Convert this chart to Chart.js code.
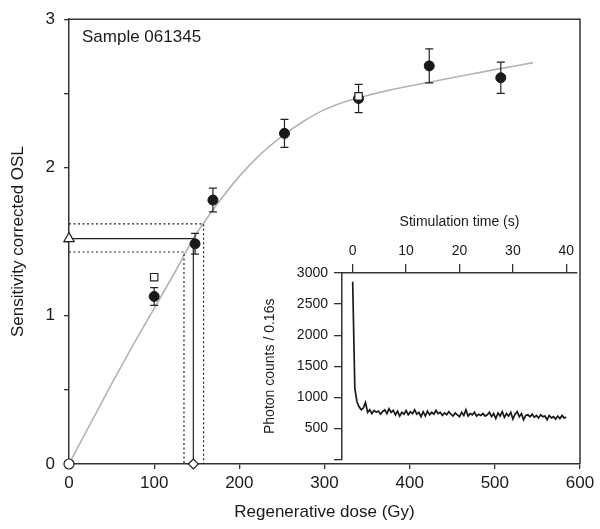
<!DOCTYPE html>
<html lang="en">
<head>
<meta charset="UTF-8">
<title>Sample 061345 dose response</title>
<script src="https://cdn.jsdelivr.net/npm/chart.js"></script>
<style>
  body { margin: 0; background: #fff; }
  #wrap { position: relative; width: 600px; height: 529px; }
  #mainChart { position: absolute; left: 0; top: 0; }
  #insetChart { position: absolute; left: 250px; top: 205px; }
</style>
</head>
<body>
<div id="wrap">
  <canvas id="mainChart" width="600" height="529"></canvas>
  <canvas id="insetChart" width="330" height="269"></canvas>
</div>
<script>
// regenerated points (Gy, Lx/Tx) with error
const doseGy = [100, 148, 169, 253, 340, 423, 507];
const oslRatio = [1.13, 1.485, 1.78, 2.23, 2.465, 2.685, 2.605];
const oslError = [0.06, 0.07, 0.08, 0.095, 0.095, 0.115, 0.105];

// recycling points (open squares)
const recycleDose = [100, 340];
const recycleOsl = [1.26, 2.48];

// fitted growth curve
const fitDose = [0, 25, 50, 75, 100, 125, 146, 175, 200, 225, 250, 275, 300, 325, 350, 375, 400, 450, 500, 545];
const fitOsl = [0, 0.27, 0.54, 0.80, 1.05, 1.30, 1.52, 1.76, 1.94, 2.09, 2.21, 2.31, 2.39, 2.445, 2.485, 2.52, 2.55, 2.605, 2.66, 2.707];

// natural signal and equivalent dose with its error band
const naturalOsl = 1.52;
const naturalLow = 1.43;
const naturalHigh = 1.62;
const equivDose = 146;
const equivLow = 135;
const equivHigh = 158;

// inset: OSL decay curve, counts per 0.16 s, read every 0.4 s
const stimStep = 0.4;
const photonCounts = [
  2860, 1150, 930, 850, 800, 830, 920, 760, 800, 740,
  790, 760, 780, 730, 770, 800, 740, 820, 760, 790,
  720, 780, 700, 760, 730, 790, 720, 770, 740, 800,
  730, 760, 690, 770, 700, 780, 720, 760, 730, 790,
  740, 760, 710, 750, 720, 770, 730, 700, 750, 720,
  690, 760, 710, 800, 700, 740, 720, 760, 700, 730,
  710, 740, 700, 720, 760, 690, 740, 660, 750, 700,
  770, 680, 740, 700, 760, 650, 730, 770, 690, 740,
  640, 710, 720, 690, 730, 680, 710, 670, 720, 690,
  700, 640, 710, 670, 690, 650, 700, 660, 710, 670,
  680
];
const stimTime = photonCounts.map((_, i) => i * stimStep);

const sampleLabel = 'Sample 061345';
const axisColor = '#333';
const inkColor = '#1a1a1a';
const fontFamily = '"Liberation Sans", Arial, Helvetica, sans-serif';

Chart.defaults.font.family = fontFamily;
Chart.defaults.color = inkColor;

const pts = (xs, ys) => xs.map((x, i) => ({ x: x, y: ys[i] }));

// error bars drawn just before the filled points
const errorBars = {
  id: 'errorBars',
  beforeDatasetDraw(chart, args) {
    if (chart.data.datasets[args.index].label !== 'regen') return;
    const { ctx } = chart;
    const xs = chart.scales.x, ys = chart.scales.y;
    ctx.save();
    ctx.strokeStyle = '#222';
    ctx.lineWidth = 1.2;
    doseGy.forEach((d, i) => {
      const px = xs.getPixelForValue(d);
      const top = ys.getPixelForValue(oslRatio[i] + oslError[i]);
      const bot = ys.getPixelForValue(oslRatio[i] - oslError[i]);
      ctx.beginPath();
      ctx.moveTo(px, top); ctx.lineTo(px, bot);
      ctx.moveTo(px - 4, top); ctx.lineTo(px + 4, top);
      ctx.moveTo(px - 4, bot); ctx.lineTo(px + 4, bot);
      ctx.stroke();
    });
    ctx.restore();
  }
};

// top/right frame and sample name
const frame = {
  id: 'frame',
  afterDraw(chart) {
    const { ctx, chartArea: a } = chart;
    ctx.save();
    ctx.strokeStyle = axisColor;
    ctx.lineWidth = 1.5;
    ctx.beginPath();
    ctx.moveTo(a.left, a.top);
    ctx.lineTo(a.right, a.top);
    ctx.lineTo(a.right, a.bottom);
    ctx.stroke();
    ctx.fillStyle = inkColor;
    ctx.font = '17px ' + fontFamily;
    ctx.textBaseline = 'middle';
    ctx.fillText(sampleLabel, a.left + 13, a.top + 18);
    ctx.restore();
  }
};

const lineSet = (data, dash, order) => ({
  type: 'scatter', data: data, showLine: true, tension: 0,
  borderColor: '#222', borderWidth: 1.2, borderDash: dash,
  pointRadius: 0, order: order, clip: false
});

new Chart(document.getElementById('mainChart'), {
  type: 'scatter',
  data: {
    datasets: [
      {
        label: 'markers',
        data: [{ x: 0, y: 0 }, { x: 0, y: naturalOsl }, { x: equivDose, y: 0 }],
        pointStyle: ['circle', 'triangle', 'rectRot'],
        pointRadius: [5, 6, 5],
        backgroundColor: '#fff', borderColor: '#222', borderWidth: 1.2,
        order: 1, clip: false
      },
      {
        label: 'recycle',
        data: pts(recycleDose, recycleOsl),
        pointStyle: 'rect', pointRadius: 5.2,
        backgroundColor: '#fff', borderColor: '#222', borderWidth: 1.2,
        order: 2
      },
      {
        label: 'regen',
        data: pts(doseGy, oslRatio),
        pointRadius: 5, backgroundColor: inkColor, borderColor: inkColor,
        order: 3
      },
      lineSet([{ x: 0, y: naturalOsl }, { x: equivDose, y: naturalOsl }, { x: equivDose, y: 0 }], [], 5),
      lineSet([{ x: 0, y: naturalLow }, { x: equivLow, y: naturalLow }, { x: equivLow, y: 0 }], [2, 2.5], 5),
      lineSet([{ x: 0, y: naturalHigh }, { x: equivHigh, y: naturalHigh }, { x: equivHigh, y: 0 }], [2, 2.5], 5),
      {
        label: 'fit',
        data: pts(fitDose, fitOsl),
        showLine: true, tension: 0.4, cubicInterpolationMode: 'monotone',
        borderColor: '#b3b3b3', borderWidth: 1.6, pointRadius: 0,
        order: 8
      }
    ]
  },
  options: {
    responsive: false,
    devicePixelRatio: 1,
    animation: false,
    layout: { padding: { top: 19, right: 20, left: 0, bottom: 0 } },
    plugins: { legend: { display: false }, tooltip: { enabled: false } },
    scales: {
      x: {
        type: 'linear', min: 0, max: 600,
        ticks: { stepSize: 100, font: { size: 17 }, color: inkColor, padding: 4 },
        grid: { drawOnChartArea: false, drawTicks: true, tickLength: 5, color: axisColor, lineWidth: 1.3 },
        border: { color: axisColor, width: 1.5 },
        title: { display: true, text: 'Regenerative dose (Gy)', font: { size: 17 }, color: inkColor, padding: { top: 4, bottom: 6 } },
        afterFit: s => { s.height = 65; }
      },
      y: {
        min: 0, max: 3,
        ticks: { stepSize: 0.5, font: { size: 17 }, color: inkColor, padding: 9,
          callback: v => Number.isInteger(v) ? v : '' },
        grid: { drawOnChartArea: false, drawTicks: true, tickLength: 5, color: axisColor, lineWidth: 1.3 },
        border: { color: axisColor, width: 1.5 },
        title: { display: true, text: 'Sensitivity corrected OSL', font: { size: 17 }, color: inkColor, padding: { top: 8, bottom: 0 } },
        afterFit: s => { s.width = 69; }
      }
    }
  },
  plugins: [errorBars, frame]
});

// inset decay curve
new Chart(document.getElementById('insetChart'), {
  type: 'scatter',
  data: {
    datasets: [{
      label: 'decay',
      data: pts(stimTime, photonCounts),
      showLine: true, tension: 0,
      borderColor: inkColor, borderWidth: 1.7, pointRadius: 0
    }]
  },
  options: {
    responsive: false,
    devicePixelRatio: 1,
    animation: false,
    layout: { padding: { top: 0, right: 3, left: 0, bottom: 10 } },
    plugins: { legend: { display: false }, tooltip: { enabled: false } },
    scales: {
      x: {
        type: 'linear', position: 'top', min: -2, max: 42,
        ticks: { stepSize: 10, includeBounds: false, font: { size: 14 }, color: inkColor, padding: 4 },
        grid: { drawOnChartArea: false, drawTicks: true, tickLength: 9, color: axisColor, lineWidth: 1.3 },
        border: { color: axisColor, width: 1.5 },
        title: { display: true, text: 'Stimulation time (s)', font: { size: 14 }, color: inkColor, padding: { top: 8.6, bottom: 0 } },
        afterFit: s => { s.height = 68; }
      },
      y: {
        min: 0, max: 3000,
        ticks: { stepSize: 500, font: { size: 14 }, color: inkColor, padding: 6,
          callback: v => v === 0 ? '' : v },
        grid: { drawOnChartArea: false, drawTicks: true, tickLength: 8, color: axisColor, lineWidth: 1.3 },
        border: { color: axisColor, width: 1.5 },
        title: { display: true, text: 'Photon counts / 0.16s', font: { size: 14 }, color: inkColor, padding: { top: 11.6, bottom: 0 } },
        afterFit: s => { s.width = 92; }
      }
    }
  }
});
</script>
</body>
</html>
